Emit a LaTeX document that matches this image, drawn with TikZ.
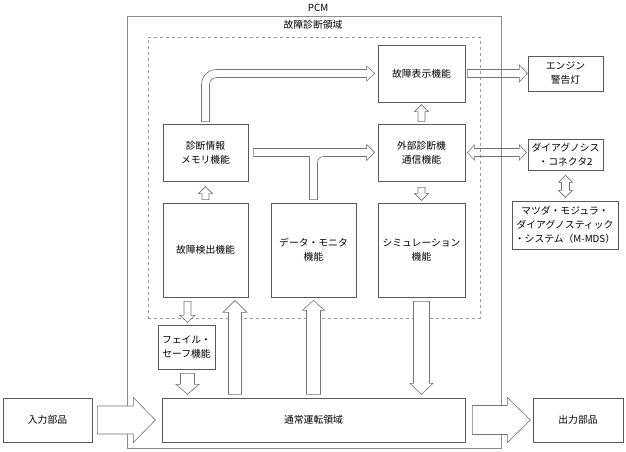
\documentclass[tikz,border=0pt]{standalone}
\usepackage{fontspec}
\setmainfont{Noto Sans CJK JP}
\usetikzlibrary{calc}
\tikzset{
	pics/blkarrow/.style n args={4}{code={
		\draw[blk] (0,-#2) -- ({#1-#4},-#2) -- ({#1-#4},-#3) -- (#1,0) -- ({#1-#4},#3) -- ({#1-#4},#2) -- (0,#2) -- cycle;}},
	pics/dblarrow/.style n args={4}{code={
		\draw[blk] (0,0) -- (#4,-#3) -- (#4,-#2) -- ({#1-#4},-#2) -- ({#1-#4},-#3) -- (#1,0) -- ({#1-#4},#3) -- ({#1-#4},#2) -- (#4,#2) -- (#4,#3) -- cycle;}}
}
\begin{document}
\begin{tikzpicture}[x=1pt, y=-1pt, every node/.style={align=center, inner sep=0pt, font=\fontsize{9.8pt}{14pt}\selectfont}]
	\tikzstyle{box} = [draw=black!65, line width=0.7pt, minimum width=85pt, minimum height=57pt]
	\tikzstyle{tall} = [box, minimum height=94pt]
	\tikzstyle{side} = [box, minimum width=75pt, minimum height=35pt]
	\tikzstyle{io} = [box, minimum width=89pt, minimum height=44pt]
	\tikzstyle{blk} = [draw=black!55, fill=white, line width=0.6pt]
	\tikzstyle{open} = [blk/.append style={fill=none}]
	\useasboundingbox (0,0) rectangle (626,451);
	\node[draw=black!45, line width=1pt, minimum width=374pt, minimum height=432pt] (pcm) at (314,232) {};
	\node (pcmlabel) at (318,8) {PCM};
	\node[draw=black!40, dashed, line width=0.8pt, minimum width=332pt, minimum height=281pt] (area) at (314,177.5) {};
	\node (arealabel) at (313,25) {故障診断領域};
	\node[box, minimum width=87pt] (disp) at (421.5,73.5) {故障表示機能};
	\node[box] (mem) at (205.5,152.5) {診断情報\\メモリ機能};
	\node[box, minimum width=87pt] (ext) at (421.5,152.5) {外部診断機\\通信機能};
	\node[tall] (det) at (205.5,250) {故障検出機能};
	\node[tall] (mon) at (313.5,250) {データ・モニタ\\機能};
	\node[tall, minimum width=87pt] (sim) at (421.5,250) {シミュレーション\\機能};
	\node[box, minimum width=57pt, minimum height=44pt] (fs) at (186.5,347) {フェイル・\\セーフ機能};
	\node[io, minimum width=303pt] (normal) at (313.5,420) {通常運転領域};
	\node[io] (input) at (47.5,420) {入力部品};
	\node[io, minimum width=90pt] (output) at (578,420) {出力部品};
	\node[side] (engine) at (565.5,73.5) {エンジン\\警告灯};
	\node[side, minimum height=31pt] (diag) at (565.5,154.5) {ダイアグノシス\\・コネクタ2};
	\node[box, minimum width=106pt, minimum height=48pt] (mmds) at (565,225) {マツダ・モジュラ・\\ダイアグノスティック\\・システム（M-MDS）};
	\draw[blk] let \p1=(mem.north), \p2=(disp.west) in
		(\x1-4pt,\y1+2pt) -- (\x1-4pt,\y2-11pt) arc[start angle=180, end angle=90, radius=15pt]
		-- (\x2-11pt,\y2+4pt) -- (\x2-11pt,\y2+7.5pt) -- (\x2-3pt,\y2) -- (\x2-11pt,\y2-7.5pt) -- (\x2-11pt,\y2-4pt)
		-- (\x1+11pt,\y2-4pt) arc[start angle=90, end angle=180, radius=7pt] -- (\x1+4pt,\y1+2pt) -- cycle;
	\draw[blk] let \p1=(mem.east), \p2=(ext.west), \p3=(mon.north) in
		(\x1+5pt,\y2+4pt) -- (\x2-11pt,\y2+4pt) -- (\x2-11pt,\y2+8pt) -- (\x2-3pt,\y2) -- (\x2-11pt,\y2-8pt) -- (\x2-11pt,\y2-4pt)
		-- (\x3+10pt,\y2-4pt) arc[start angle=90, end angle=180, radius=6pt] -- (\x3+4pt,\y3+3pt) -- (\x3-4pt,\y3+3pt)
		-- (\x3-4pt,\y2-4pt) -- (\x1+5pt,\y2-4pt) -- cycle;
	\pic[rotate=90] at ([yshift=3pt]det.north) {blkarrow={13}{3.5}{7}{7}};
	\pic[rotate=-90] at ([yshift=-6pt]ext.south) {blkarrow={13}{3.5}{7}{7}};
	\pic[rotate=90] at ([yshift=2pt]ext.north) {blkarrow={17}{3.5}{7}{7}};
	\pic[open] at ([xshift=2pt]disp.east) {blkarrow={60}{4}{8.5}{8}};
	\pic[open] at ([xshift=2pt]ext.east) {dblarrow={59}{4}{7.5}{7}};
	\pic[rotate=-90] at ([yshift=-5pt]diag.south) {dblarrow={22}{4}{7}{7}};
	\pic[rotate=-90] at ([xshift=-18pt, yshift=-4pt]det.south) {blkarrow={21}{3.5}{7.5}{7}};
	\pic[rotate=-90] at ([xshift=1pt, yshift=-4pt]fs.south) {blkarrow={21}{7}{11.5}{10}};
	\pic[rotate=90] at ([xshift=29.5pt, yshift=-97pt]det.south) {blkarrow={94}{6.5}{12}{12}};
	\pic[rotate=90] at ([yshift=-97pt]mon.south) {blkarrow={94}{7}{11}{10}};
	\pic[rotate=-90] at ([yshift=-4pt]sim.south) {blkarrow={93}{8}{11.5}{11}};
	\pic at ([xshift=5pt]input.east) {blkarrow={58}{14}{22.5}{22}};
	\pic at ([xshift=7pt]normal.east) {blkarrow={58}{14.5}{22.5}{23}};
\end{tikzpicture}
\end{document}
